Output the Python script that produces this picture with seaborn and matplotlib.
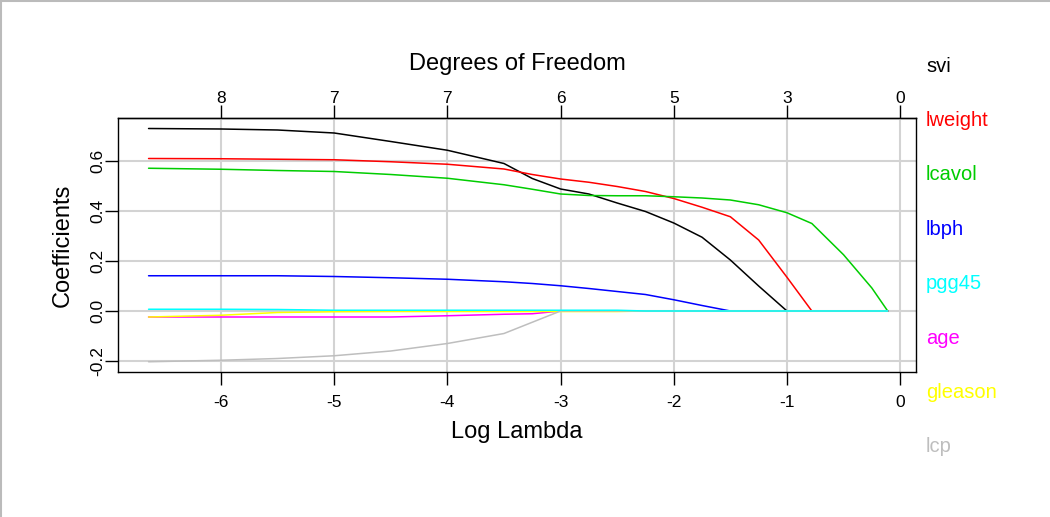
import pandas as pd
import matplotlib.pyplot as plt
import matplotlib.lines as mlines
import seaborn as sns

# log(lambda) grid the coefficient paths are read at
log_lambda = [-6.64, -6.0, -5.5, -5.0, -4.5, -4.0, -3.5, -3.25, -3.0, -2.75, -2.5,
              -2.25, -2.0, -1.75, -1.5, -1.25, -1.0, -0.78, -0.5, -0.25, -0.11]

svi = [0.730, 0.728, 0.724, 0.712, 0.678, 0.643, 0.590, 0.530, 0.488, 0.468, 0.432,
       0.398, 0.352, 0.295, 0.204, 0.100, 0.0, 0.0, 0.0, 0.0, 0.0]
lweight = [0.610, 0.609, 0.607, 0.605, 0.597, 0.587, 0.568, 0.546, 0.528, 0.515, 0.498,
           0.478, 0.450, 0.415, 0.377, 0.284, 0.135, 0.0, 0.0, 0.0, 0.0]
lcavol = [0.571, 0.567, 0.562, 0.558, 0.546, 0.531, 0.505, 0.487, 0.468, 0.462, 0.461,
          0.461, 0.457, 0.452, 0.444, 0.425, 0.393, 0.350, 0.225, 0.092, 0.0]
lbph = [0.141, 0.141, 0.141, 0.138, 0.133, 0.127, 0.117, 0.110, 0.101, 0.090, 0.078,
        0.066, 0.045, 0.022, 0.0, 0.0, 0.0, 0.0, 0.0, 0.0, 0.0]
age = [-0.024, -0.024, -0.024, -0.024, -0.024, -0.019, -0.013, -0.011, 0.0, 0.0, 0.0,
       0.0, 0.0, 0.0, 0.0, 0.0, 0.0, 0.0, 0.0, 0.0, 0.0]
gleason = [-0.024, -0.017, -0.006, -0.003, -0.002, -0.002, -0.002, -0.002, -0.002, -0.002, -0.002,
           0.0, 0.0, 0.0, 0.0, 0.0, 0.0, 0.0, 0.0, 0.0, 0.0]
lcp = [-0.203, -0.197, -0.190, -0.179, -0.160, -0.130, -0.090, -0.045, 0.0, 0.0, 0.0,
       0.0, 0.0, 0.0, 0.0, 0.0, 0.0, 0.0, 0.0, 0.0, 0.0]
pgg45 = [0.007, 0.007, 0.006, 0.003, 0.003, 0.003, 0.003, 0.003, 0.003, 0.003, 0.003,
         0.0, 0.0, 0.0, 0.0, 0.0, 0.0, 0.0, 0.0, 0.0, 0.0]

# axis ticks and labels
x_ticks = [-6, -5, -4, -3, -2, -1, 0]
x_labels = ["-6", "-5", "-4", "-3", "-2", "-1", "0"]
y_ticks = [-0.2, 0.0, 0.2, 0.4, 0.6]
y_labels = ["-0.2", "0.0", "0.2", "0.4", "0.6"]
# top axis: degrees of freedom at the bottom tick positions
df_labels = ["8", "7", "7", "6", "5", "3", "0"]

label_order = ["svi", "lweight", "lcavol", "lbph", "pgg45", "age", "gleason", "lcp"]
colors = {"svi": "#000000", "lweight": "#FF0000", "lcavol": "#00CD00", "lbph": "#0000FF",
          "pgg45": "#00FFFF", "age": "#FF00FF", "gleason": "#FFFF00", "lcp": "#BEBEBE"}
draw_order = ["svi", "lweight", "lcavol", "lbph", "age", "gleason", "lcp", "pgg45"]

series = {"svi": svi, "lweight": lweight, "lcavol": lcavol, "lbph": lbph,
          "age": age, "gleason": gleason, "lcp": lcp, "pgg45": pgg45}
data = pd.concat([pd.DataFrame({"log_lambda": log_lambda, "coef": v, "var": k})
                  for k, v in series.items()], ignore_index=True)

sns.set_theme(style="white")
plt.rcParams["font.family"] = ["Liberation Sans", "DejaVu Sans"]
plt.rcParams["text.color"] = "black"
plt.rcParams["axes.labelcolor"] = "black"
plt.rcParams["xtick.color"] = "black"
plt.rcParams["ytick.color"] = "black"

fig = plt.figure(figsize=(10.5, 5.17), dpi=100)
ax = fig.add_axes([118 / 1050, 1 - 372 / 517, 798 / 1050, 254 / 517])

sns.lineplot(data=data, x="log_lambda", y="coef", hue="var", hue_order=draw_order,
             palette=colors, estimator=None, sort=False, linewidth=1.1, legend=False, ax=ax)

ax.set_xlim(-6.91, 0.14)
ax.set_ylim(-0.244, 0.772)
ax.set_xticks(x_ticks, labels=x_labels)
ax.set_yticks(y_ticks, labels=y_labels)
ax.grid(True, color="#D3D3D3", linewidth=1.5)
ax.set_axisbelow(True)
for s in ax.spines.values():
    s.set_color("black")
    s.set_linewidth(1.0)

ax.tick_params(axis="x", bottom=True, length=9.4, width=1, colors="black",
               labelsize=12.5, pad=7.5)
ax.tick_params(axis="y", left=True, length=9.4, width=1, colors="black",
               labelsize=12.5, pad=0, labelrotation=90)
for lab in ax.get_yticklabels():
    lab.set_va("center")

ax.set_xlabel("Log Lambda", fontsize=17, va="center")
ax.xaxis.set_label_coords(0.5, -(432 - 372) / 254)
ax.set_ylabel("Coefficients", fontsize=17, va="center")
ax.yaxis.set_label_coords(-(118 - 63) / 798, 0.5)

top = ax.secondary_xaxis("top")
top.set_xticks(x_ticks, labels=df_labels)
top.tick_params(length=9.4, width=1, colors="black", labelsize=12.5, pad=-1)
top.spines["top"].set_linewidth(1.0)
ax.text(0.5, 1 + (118 - 64) / 254, "Degrees of Freedom", transform=ax.transAxes,
        fontsize=17, ha="center", va="center")

# variable names down the right margin
for i, name in enumerate(label_order):
    fig.text(926 / 1050, 1 - (66 + i * 54.4) / 517, name, color=colors[name],
             fontsize=14.5, ha="left", va="center")

# light frame on the top and left edge of the picture
fig.add_artist(mlines.Line2D([0.001, 0.001], [0, 1], color="#BBBBBB", lw=1.5))
fig.add_artist(mlines.Line2D([0, 1], [0.999, 0.999], color="#BBBBBB", lw=1.5))

fig.savefig("out.png", dpi=100, facecolor="white")
